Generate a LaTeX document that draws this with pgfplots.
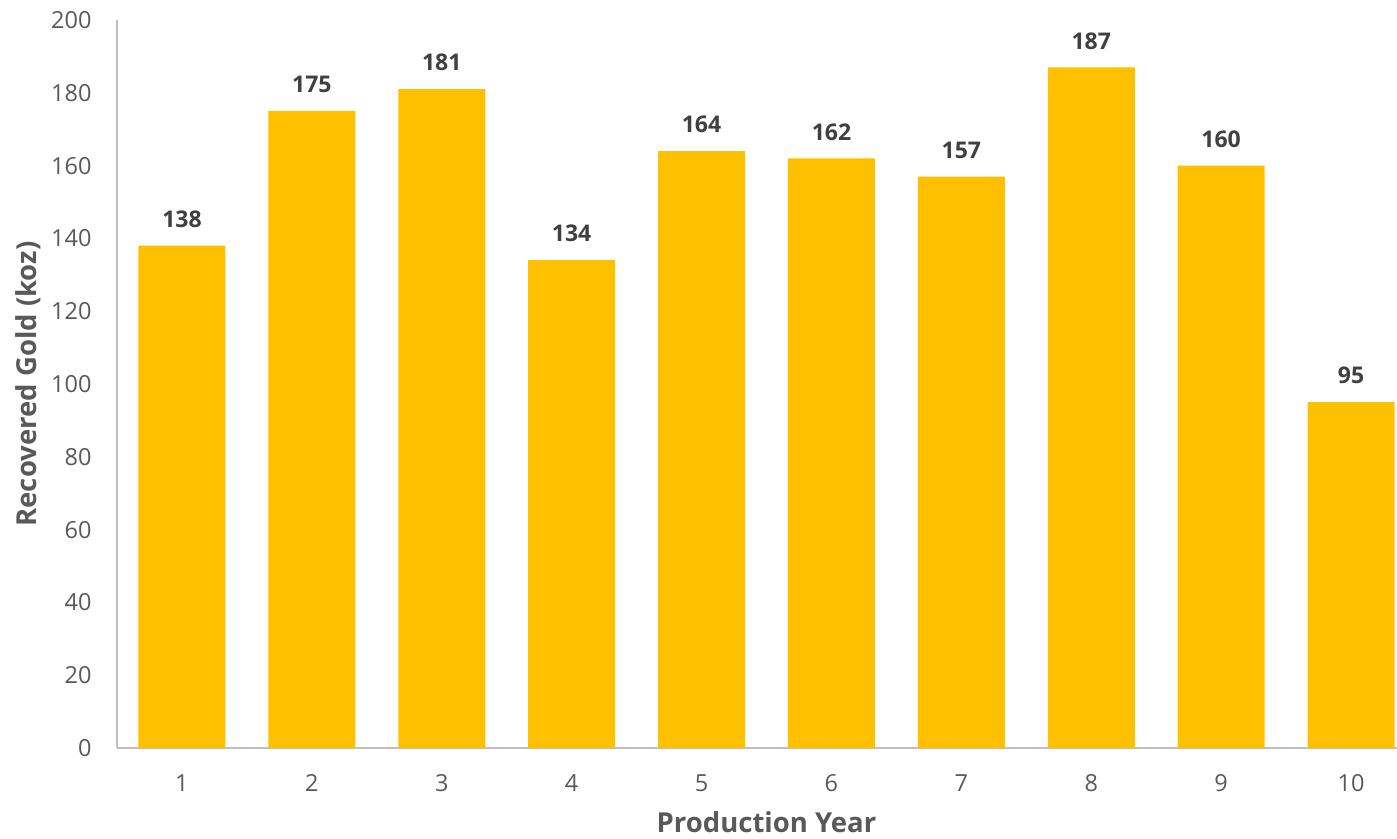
\documentclass[border=0pt]{standalone}
\usepackage{pgfplots}
\pgfplotsset{compat=1.18}
\usepackage{fontspec}
\setmainfont{Open Sans}
\definecolor{gold}{HTML}{FFC000}
\definecolor{ticktext}{HTML}{595959}
\definecolor{labeltext}{HTML}{404040}
\definecolor{axisgray}{HTML}{BFBFBF}
\begin{document}
\begin{tikzpicture}
\useasboundingbox (-117pt,-90pt) rectangle (1280pt,748pt);
\begin{axis}[
  at={(0,0)}, anchor=origin,
  scale only axis,
  width=1299pt, height=728pt,
  xmin=0.5, xmax=10.5,
  ymin=0, ymax=200,
  ytick={0,20,...,200},
  xtick={1,...,10},
  axis x line*=bottom,
  axis y line*=left,
  axis line style={axisgray, line width=1.5pt, -},
  major tick length=0pt,
  tick style={draw=none},
  ticklabel style={font=\fontsize{23.5}{28}\selectfont, text=ticktext},
  /pgf/number format/assume math mode=true,
  yticklabel style={xshift=-22pt},
  xticklabel style={yshift=-23pt},
  ylabel={Recovered Gold (koz)},
  xlabel={Production Year},
  every axis y label/.style={at={(-89pt,0.5)}, rotate=90, anchor=center,
    font=\bfseries\fontsize{27.5}{32}\selectfont, text=ticktext},
  every axis x label/.style={at={(0.5,-74pt)}, anchor=center,
    font=\bfseries\fontsize{27.5}{32}\selectfont, text=ticktext},
  ybar, bar width=87pt,
  nodes near coords,
  every node near coord/.append style={font=\bfseries\fontsize{23}{27}\selectfont, text=labeltext, yshift=14.5pt},
  clip=false,
]
\addplot[fill=gold, draw=none] coordinates {
  (1,138) (2,175) (3,181) (4,134) (5,164)
  (6,162) (7,157) (8,187) (9,160) (10,95)
};
\end{axis}
\end{tikzpicture}
\end{document}
